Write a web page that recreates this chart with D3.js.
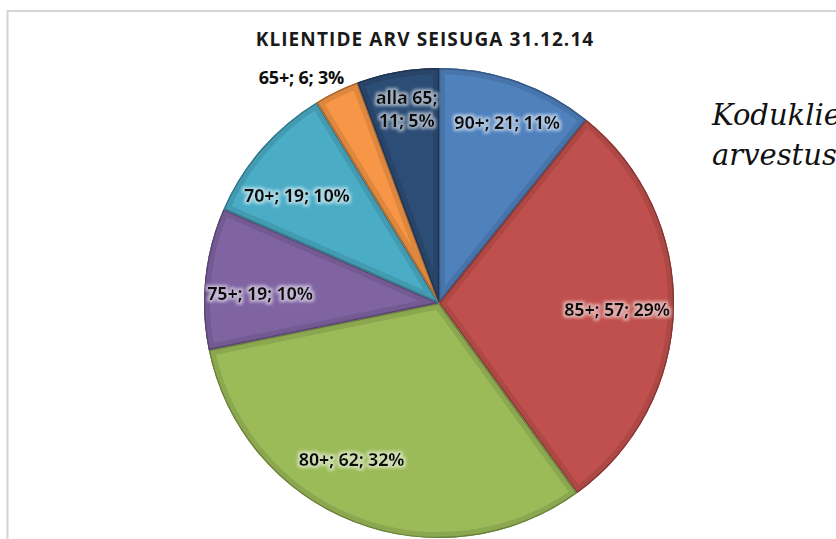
<!DOCTYPE html>
<html lang="et">
  <head>
    <meta charset="UTF-8" />
    <title>Klientide arv</title>
    <script src="https://cdn.jsdelivr.net/npm/d3@7"></script>
    <style>
      body { margin: 0; background: #fff; overflow: hidden; }
    </style>
  </head>
  <body>
    <div class="chart"></div>
    <script>
      // andmed
      var categories = ['90+', '85+', '80+', '75+', '70+', '65+', 'alla 65']
      var counts = [21, 57, 62, 19, 19, 6, 11]
      var percentLabels = ['11%', '29%', '32%', '10%', '10%', '3%', '5%']

      var colors = ['#4f81bd', '#c0504d', '#9bbb59', '#8064a2', '#4bacc6', '#f79646', '#2c4d75']

      var W = 836, H = 539
      var cx = 439, cy = 303, R = 235
      var labelFont = '"Open Sans", "Noto Sans", sans-serif'

      var svg = d3.select('.chart').append('svg').attr('width', W).attr('height', H)
      var defs = svg.append('defs')

      // diagrammi ala piir
      svg.append('path')
        .attr('d', 'M7.5,' + H + 'V11H' + W)
        .attr('fill', 'none')
        .attr('stroke', '#d4d4d4')
        .attr('stroke-width', 2)

      svg.append('text')
        .attr('x', 425).attr('y', 46)
        .attr('text-anchor', 'middle')
        .style('font-family', labelFont)
        .style('font-weight', 700)
        .style('font-size', '19px')
        .style('letter-spacing', '1.1px')
        .style('fill', '#1a1a1a')
        .text('KLIENTIDE ARV SEISUGA 31.12.14')

      // kõrvaltekst (originaalis paremalt poolt ära lõigatud)
      var side = svg.append('text')
        .style('font-family', '"DejaVu Serif", "Liberation Serif", serif')
        .style('font-style', 'italic')
        .style('font-size', '29px')
        .style('fill', '#111')
      side.append('tspan').attr('x', 712).attr('y', 125).text('Koduklientide')
      side.append('tspan').attr('x', 712).attr('y', 165).text('arvestuse')

      var data = categories.map((c, i) => ({ label: c, value: counts[i], pct: percentLabels[i], color: colors[i] }))

      var pie = d3.pie().sort(null).value((d) => d.value)
      var arcs = pie(data)
      var arc = d3.arc().innerRadius(0).outerRadius(R)
      var labelArc = d3.arc().innerRadius(178).outerRadius(178)

      var g = svg.append('g').attr('transform', 'translate(' + cx + ',' + cy + ')')

      arcs.forEach((a, i) => {
        var col = d3.color(a.data.color)
        defs.append('clipPath').attr('id', 'clip' + i)
          .append('path').attr('d', arc(a))

        // helendus siltide ümber
        var f = defs.append('filter').attr('id', 'glow' + i)
          .attr('x', '-20%').attr('y', '-50%').attr('width', '140%').attr('height', '200%')
        f.append('feMorphology').attr('in', 'SourceAlpha').attr('operator', 'dilate').attr('radius', 1.5).attr('result', 'd')
        f.append('feFlood').attr('flood-color', d3.interpolateRgb(a.data.color, '#fff')(0.6)).attr('flood-opacity', 0.9)
        f.append('feComposite').attr('in2', 'd').attr('operator', 'in')
        f.append('feGaussianBlur').attr('stdDeviation', 1.8).attr('result', 'gl')
        var m = f.append('feMerge')
        m.append('feMergeNode').attr('in', 'gl')
        m.append('feMergeNode').attr('in', 'SourceGraphic')

        var s = g.append('g')
        s.append('path')
          .attr('d', arc(a))
          .attr('fill', a.data.color)
        // reljeef servas
        s.append('path')
          .attr('d', arc(a))
          .attr('fill', 'none')
          .attr('clip-path', 'url(#clip' + i + ')')
          .attr('stroke', col.darker(0.3))
          .attr('stroke-width', 12)
          .attr('stroke-linejoin', 'round')
        s.append('path')
          .attr('d', arc(a))
          .attr('fill', 'none')
          .attr('clip-path', 'url(#clip' + i + ')')
          .attr('stroke', col.darker(1.1))
          .attr('stroke-width', 2.5)
      })

      // Exceli "best fit" sildid, nihked käsitsi
      var nudge = {
        '90+': [9, -12],
        '85+': [0, 3],
        '80+': [-23, -9],
        '75+': [-2, 10],
        '70+': [-8, 10],
        '65+': [-60, -65],
        'alla 65': [-1, -18]
      }

      arcs.forEach((a, i) => {
        var c = labelArc.centroid(a)
        var n = nudge[a.data.label] || [0, 0]
        var lines = a.data.label === 'alla 65'
          ? [a.data.label + ';', a.data.value + '; ' + a.data.pct]
          : [a.data.label + '; ' + a.data.value + '; ' + a.data.pct]
        var outside = a.data.label === '65+'
        var t = g.append('text')
          .attr('text-anchor', 'middle')
          .attr('transform', 'translate(' + (c[0] + n[0]) + ',' + (c[1] + n[1]) + ')')
          .style('font-family', labelFont)
          .style('font-weight', 700)
          .style('font-size', '18px')
          .style('letter-spacing', '-0.2px')
          .style('fill', '#0d0d0d')
        if (!outside) t.attr('filter', 'url(#glow' + i + ')')
        lines.forEach((l, k) => {
          t.append('tspan')
            .attr('x', 0)
            .attr('y', (k - (lines.length - 1) / 2) * 23 + 6)
            .text(l)
        })
      })
    </script>
  </body>
</html>
